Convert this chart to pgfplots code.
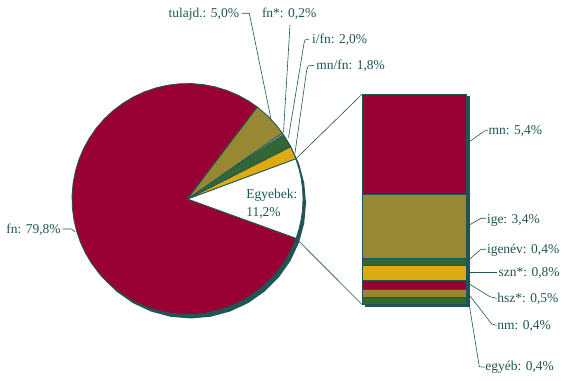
\documentclass[border=0pt]{standalone}
\usepackage{fontspec}
\setmainfont{Liberation Serif}
\usepackage{pgfplots}
\pgfplotsset{compat=1.18}
\usepgfplotslibrary{polar}
\definecolor{fnred}{RGB}{153,0,51}
\definecolor{olv}{RGB}{153,136,51}
\definecolor{dgreen}{RGB}{51,102,51}
\definecolor{gld}{RGB}{221,170,17}
\definecolor{tl}{RGB}{31,85,85}
\pgfplotsset{
  pie/.style={hide axis, scale only axis, width=231bp, height=231bp,
    xmin=0, xmax=360, ymin=0, ymax=1, anchor=center, clip=false},
  barax/.style={hide axis, scale only axis, width=104bp, height=210.5bp,
    xmin=0, xmax=1, ymin=0, ymax=11.3, anchor=south west, clip=false,
    ybar stacked, bar width=104bp},
}
\begin{document}
\fontsize{13.5bp}{16bp}\selectfont
\begin{tikzpicture}
\path[use as bounding box] (0,0) rectangle (567bp,381bp);
% pie shadow
\begin{polaraxis}[pie, at={(190.5bp,178bp)}]
\addplot[fill=tl, draw=none] coordinates {(0,1) (10,1) (20,1) (30,1) (40,1) (50,1) (60,1) (70,1) (80,1) (90,1) (100,1) (110,1) (120,1) (130,1) (140,1) (150,1) (160,1) (170,1) (180,1) (190,1) (200,1) (210,1) (220,1) (230,1) (240,1) (250,1) (260,1) (270,1) (280,1) (290,1) (300,1) (310,1) (320,1) (330,1) (340,1) (350,1) (360,1)} -- cycle;
\end{polaraxis}
% pie: slices (angle in degrees, radius 1)
\begin{polaraxis}[pie, at={(187.5bp,182bp)}]
% fn 79.8%
\addplot[fill=fnred, draw=tl, line width=0.8bp] coordinates {(0,0) (52.8,1) (58,1) (64,1) (70,1) (76,1) (82,1) (88,1) (94,1) (100,1) (106,1) (112,1) (118,1) (124,1) (130,1) (136,1) (142,1) (148,1) (154,1) (160,1) (166,1) (172,1) (178,1) (184,1) (190,1) (196,1) (202,1) (208,1) (214,1) (220,1) (226,1) (232,1) (238,1) (244,1) (250,1) (256,1) (262,1) (268,1) (274,1) (280,1) (286,1) (292,1) (298,1) (304,1) (310,1) (316,1) (322,1) (328,1) (334,1) (340.1,1)} -- cycle;
% Egyebek 11.2%
\addplot[fill=white, draw=tl, line width=0.8bp] coordinates {(0,0) (-19.9,1) (-15,1) (-10,1) (-5,1) (0,1) (5,1) (10,1) (15,1) (20.4,1)} -- cycle;
% mn/fn 1.8%
\addplot[fill=gld, draw=tl, line width=0.8bp] coordinates {(0,0) (20.4,1) (23.6,1) (26.9,1)} -- cycle;
% i/fn 2.0%
\addplot[fill=dgreen, draw=tl, line width=0.8bp] coordinates {(0,0) (26.9,1) (30.5,1) (34.1,1)} -- cycle;
% fn* 0.2%
\addplot[fill=white, draw=tl, line width=0.5bp] coordinates {(0,0) (34.1,1) (34.8,1)} -- cycle;
% tulajd. 5.0%
\addplot[fill=olv, draw=tl, line width=0.8bp] coordinates {(0,0) (34.8,1) (40,1) (46,1) (52.8,1)} -- cycle;
\end{polaraxis}
% bar shadow
\begin{axis}[barax, at={(365bp,74.5bp)}]
\addplot[fill=tl, draw=tl] coordinates {(0.5,11.3)};
\end{axis}
% bar of Egyebek
\begin{axis}[barax, at={(362bp,76.5bp)}]
\addplot[fill=dgreen, draw=tl, line width=0.8bp] coordinates {(0.5,0.4)}; % egyéb
\addplot[fill=olv, draw=tl, line width=0.8bp] coordinates {(0.5,0.4)};    % nm
\addplot[fill=fnred, draw=tl, line width=0.8bp] coordinates {(0.5,0.5)};  % hsz*
\addplot[fill=gld, draw=tl, line width=0.8bp] coordinates {(0.5,0.8)};    % szn*
\addplot[fill=dgreen, draw=tl, line width=0.8bp] coordinates {(0.5,0.4)}; % igenév
\addplot[fill=olv, draw=tl, line width=0.8bp] coordinates {(0.5,3.4)};    % ige
\addplot[fill=fnred, draw=tl, line width=0.8bp] coordinates {(0.5,5.4)};  % mn
\end{axis}
% annotations (image pixel coordinates, y downward)
\begin{scope}[yshift=381bp, x=1bp, y=-1bp, tl, line width=0.6bp]
\draw (296,158.7) -- (362,94.3);
\draw (296,238.3) -- (362,304.5);
\draw (241.7,13.3) -- (249.3,13.3) -- (271,119);
\draw (290,25) -- (283.5,132);
\draw (309.3,39) -- (305,40) -- (304,43.3) -- (288.5,137.5);
\draw (314.3,65.3) -- (308.3,66) -- (306.7,70) -- (295,153);
\draw (62.7,229) -- (71.7,229) -- (75,232);
\draw (469.3,141.7) -- (485,130.7) -- (488,130.7);
\draw (469.3,225) -- (481,218.3) -- (486,218.3);
\draw (469.3,259.3) -- (481,249.3) -- (486,249.3);
\draw (469.3,272.3) -- (496.7,272.3);
\draw (469.3,284) -- (490,296.7) -- (496.5,298.3);
\draw (469.3,295) -- (491.7,324) -- (496.5,325.3);
\draw (469.3,305) -- (479.3,366.7) -- (484.5,367.3);
\begin{scope}[every node/.style={anchor=base west, inner sep=0pt, text=tl}]
\node at (168.3,17.5) {tulajd.: 5,0\%};
\node at (261.7,17.5) {fn*: 0,2\%};
\node at (311.7,43.3) {i/fn: 2,0\%};
\node at (316,70) {mn/fn: 1,8\%};
\node at (246,198.3) {Egyebek:};
\node at (246,216.7) {11,2\%};
\node at (6,233.3) {fn: 79,8\%};
\node at (488.3,135) {mn: 5,4\%};
\node at (486.7,223.3) {ige: 3,4\%};
\node at (486.7,253.3) {igenév: 0,4\%};
\node at (498.3,276.7) {szn*: 0,8\%};
\node at (497,302.7) {hsz*: 0,5\%};
\node at (497,330) {nm: 0,4\%};
\node at (485,371) {egyéb: 0,4\%};
\end{scope}
\end{scope}
\end{tikzpicture}
\end{document}
